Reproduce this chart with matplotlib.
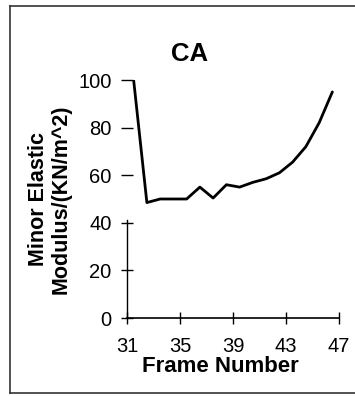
import numpy as np
import matplotlib
matplotlib.use("Agg")
import matplotlib.pyplot as plt
from matplotlib.lines import Line2D

plt.rcParams['font.family'] = ['Liberation Sans', 'DejaVu Sans']

# frames 31..46, plotted at category centres
frames = np.arange(31, 47)
modulus = [100, 48.5, 50, 50, 50, 55, 50.4, 56, 55, 57, 58.5, 61, 65.5, 72, 82, 95]
x_ticks = [31, 35, 39, 43, 47]
y_ticks = [0, 20, 40, 60, 80, 100]

W, H = 355, 396
fig = plt.figure(figsize=(W / 100, H / 100), dpi=100)

# axes placed in pixel terms of the reference
left, right, top, bottom = 127, 339, 80, 318
ax = fig.add_axes([left / W, 1 - bottom / H, (right - left) / W, (bottom - top) / H])

ax.plot(frames + 0.5, modulus, color='black', linewidth=2.0,
        solid_joinstyle='round', solid_capstyle='round')

ax.set_xlim(31, 47)
ax.set_ylim(0, 100)
ax.set_xticks(x_ticks)
ax.set_yticks(y_ticks)
ax.tick_params(direction='inout', length=8, width=1, labelsize=14.5, color='black')
ax.tick_params(axis='x', pad=10)
ax.tick_params(axis='y', pad=7)

for s in ['top', 'right']:
    ax.spines[s].set_visible(False)
ax.spines['left'].set_bounds(0, 41)
ax.spines['left'].set_linewidth(1)
ax.spines['bottom'].set_linewidth(1.2)
ax.patch.set_visible(False)

fig.text(220 / W, 1 - 366 / H, 'Frame Number', ha='center', va='center',
         fontsize=16, fontweight='bold')

fig.text(50 / W, 1 - 199 / H, 'Minor Elastic\nModulus/(KN/m^2)', rotation=90,
         ha='center', va='center', multialignment='center',
         fontsize=15.5, fontweight='bold', linespacing=1.1)

fig.text(190 / W, 1 - 54 / H, 'CA', ha='center', va='center',
         fontsize=18.5, fontweight='bold')

# outer frame (left, top, bottom; right side runs off the image)
for xs, ys in [([10, 10], [6, 393]), ([10, 360], [6, 6]), ([10, 360], [393, 393])]:
    fig.add_artist(Line2D([x / W for x in xs], [1 - y / H for y in ys],
                          color='#333333', linewidth=1.2))

fig.savefig('out.png', dpi=100)
